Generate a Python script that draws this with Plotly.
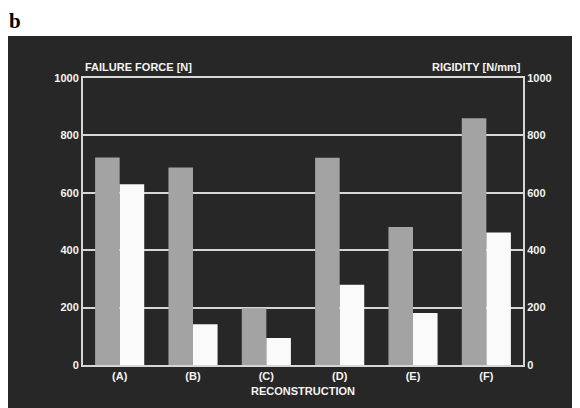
import plotly.graph_objects as go

# data
categories = ["(A)", "(B)", "(C)", "(D)", "(E)", "(F)"]
failure_force = [723, 688, 198, 722, 481, 860]   # N, left axis
rigidity = [630, 142, 94, 280, 181, 462]         # N/mm, right axis
y_ticks = [0, 200, 400, 600, 800, 1000]

PANEL = "#272727"
LINE = "#d6d6d6"
FONT = dict(family="Arial, Liberation Sans, sans-serif", color="#f4f4f4", size=11, weight=700)

fig = go.Figure()
fig.add_bar(x=categories, y=failure_force, name="Failure force",
            marker=dict(color="#a3a3a3", line_width=0), offsetgroup="1", yaxis="y")
fig.add_bar(x=categories, y=rigidity, name="Rigidity",
            marker=dict(color="#fafafa", line_width=0), offsetgroup="2", yaxis="y2")

# the page body has an 8px margin, so the figure is 8px smaller than the window
fig.update_layout(
    width=572,
    height=400,
    margin=dict(l=75, r=57, t=70, b=41),
    paper_bgcolor="white",
    plot_bgcolor=PANEL,
    barmode="group",
    bargap=0.33,
    bargroupgap=0,
    showlegend=False,
    font=FONT,
    shapes=[
        # dark screen behind the chart
        dict(type="rect", xref="paper", yref="paper", x0=-0.2, x1=1.2,
             y0=-0.2, y1=1.146, fillcolor=PANEL, line_width=0, layer="below"),
    ],
    annotations=[
        dict(text="b", xref="paper", yref="paper", x=-0.172, y=1.247,
             xanchor="left", yanchor="top", showarrow=False,
             font=dict(family="Liberation Serif, Times New Roman, serif",
                       size=21, color="black", weight=700)),
        dict(text="FAILURE FORCE [N]", xref="paper", yref="paper", x=0, y=1,
             xanchor="left", yanchor="bottom", yshift=3, showarrow=False, font=FONT),
        dict(text="RIGIDITY [N/mm]", xref="paper", yref="paper", x=1, y=1,
             xanchor="right", yanchor="bottom", yshift=3, showarrow=False, font=FONT),
    ],
)

fig.update_xaxes(
    showline=True, linecolor=LINE, linewidth=2, mirror=True,
    showgrid=False, ticks="", tickfont=FONT,
    title=dict(text="RECONSTRUCTION", font=FONT, standoff=6),
)
fig.update_layout(
    yaxis=dict(range=[0, 1000], tickvals=y_ticks, showgrid=True,
               gridcolor=LINE, gridwidth=2, showline=True, linecolor=LINE,
               linewidth=2, ticks="", tickfont=FONT, zeroline=False),
    yaxis2=dict(range=[0, 1000], tickvals=y_ticks, overlaying="y", side="right",
                showgrid=False, showline=True, linecolor=LINE, linewidth=2,
                ticks="", tickfont=FONT, zeroline=False),
)

fig.write_html("out.html")
